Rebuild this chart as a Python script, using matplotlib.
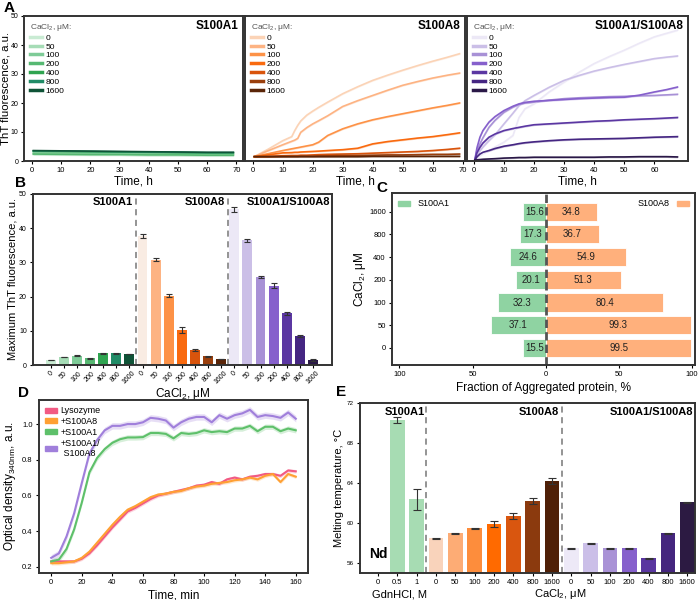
import numpy as np
import matplotlib
matplotlib.use("Agg")
import matplotlib.pyplot as plt
from matplotlib.patches import Patch
from matplotlib.ticker import FuncFormatter
from matplotlib.transforms import blended_transform_factory

plt.rcParams['font.family'] = ['Liberation Sans', 'DejaVu Sans']
plt.rcParams['mathtext.fontset'] = 'custom'
plt.rcParams['mathtext.rm'] = 'Liberation Sans'
plt.rcParams['mathtext.it'] = 'Liberation Sans:italic'
plt.rcParams['axes.edgecolor'] = '#333333'
plt.rcParams['axes.linewidth'] = 1.4
plt.rcParams['xtick.labelsize'] = 5.5
plt.rcParams['ytick.labelsize'] = 5.5
plt.rcParams['xtick.major.size'] = 2.5
plt.rcParams['ytick.major.size'] = 2.5
plt.rcParams['xtick.major.pad'] = 2
plt.rcParams['ytick.major.pad'] = 2

# ---------------- data ----------------
conc = ['0', '50', '100', '200', '400', '800', '1600']

# panel A, kinetics (h, a.u.)
tA1 = [0.5, 10, 20, 30, 40, 50, 60, 69]
a1_curves = [
    [2.2, 2.1, 2.0, 2.0, 1.9, 1.9, 1.8, 1.8],
    [2.6, 2.5, 2.4, 2.4, 2.3, 2.3, 2.2, 2.2],
    [2.9, 2.8, 2.7, 2.6, 2.6, 2.5, 2.5, 2.4],
    [2.4, 2.3, 2.2, 2.2, 2.1, 2.1, 2.0, 2.0],
    [3.4, 3.3, 3.2, 3.1, 3.0, 2.9, 2.8, 2.8],
    [3.5, 3.4, 3.3, 3.2, 3.1, 3.0, 2.9, 2.9],
    [3.6, 3.5, 3.4, 3.3, 3.2, 3.1, 3.0, 3.0],
]
tA2 = [0.5, 5, 10, 13, 14, 15, 16, 18, 20, 22, 25, 30, 35, 40, 45, 50, 55, 60, 65, 69]
a8_curves = [
    [1.5, 4.0, 7.0, 8.4, 10.5, 12.3, 13.8, 15.8, 17.2, 18.5, 20.3, 23.2, 25.6, 27.8, 29.6, 31.3, 32.9, 34.4, 35.8, 37.0],
    [1.5, 3.5, 5.6, 6.8, 7.2, 7.8, 9.9, 11.5, 12.8, 13.9, 15.6, 18.8, 20.8, 22.6, 24.4, 26.1, 27.4, 28.6, 29.6, 30.3],
    [1.5, 2.5, 3.6, 4.2, 4.4, 4.6, 4.8, 5.2, 5.6, 6.5, 8.8, 11.1, 12.8, 14.2, 15.3, 16.3, 17.3, 18.3, 19.2, 20.0],
    [1.5, 2.1, 2.8, 2.9, 3.0, 3.0, 3.1, 3.2, 3.3, 3.4, 3.6, 3.9, 4.4, 5.9, 6.7, 7.3, 7.9, 8.4, 9.1, 9.7],
    [1.5, 1.6, 1.8, 1.9, 1.9, 1.9, 2.0, 2.0, 2.1, 2.2, 2.3, 2.4, 2.5, 2.7, 2.9, 3.1, 3.3, 3.6, 4.0, 4.4],
    [1.5, 1.5, 1.6, 1.6, 1.6, 1.6, 1.7, 1.7, 1.7, 1.8, 1.8, 1.9, 1.9, 2.0, 2.1, 2.1, 2.2, 2.3, 2.3, 2.4],
    [1.5, 1.5, 1.5, 1.5, 1.5, 1.5, 1.5, 1.5, 1.5, 1.5, 1.5, 1.5, 1.5, 1.6, 1.6, 1.6, 1.6, 1.6, 1.6, 1.6],
]
tA3 = [0.3, 1, 2, 3, 5, 7, 10, 13, 15, 17, 20, 25, 30, 35, 40, 45, 50, 55, 60, 64, 67.7]
a18_curves = [
    [0.3, 1.0, 1.8, 2.5, 3.6, 4.8, 6.5, 8.8, 15.0, 18.0, 19.7, 23.8, 27.2, 30.6, 33.6, 36.0, 38.2, 40.6, 42.8, 44.0, 45.1],
    [0.3, 2.0, 3.5, 4.8, 7.0, 9.0, 12.8, 16.5, 19.1, 20.8, 22.6, 25.4, 27.8, 29.5, 31.0, 32.2, 33.3, 34.3, 35.3, 35.8, 36.2],
    [0.3, 3.5, 5.9, 8.0, 11.6, 14.0, 16.8, 18.6, 19.5, 20.0, 20.3, 21.0, 21.5, 21.8, 22.0, 22.2, 22.3, 22.5, 22.6, 22.8, 23.0],
    [0.3, 4.5, 8.2, 10.5, 13.4, 15.3, 17.4, 18.9, 19.7, 20.2, 20.6, 20.9, 21.2, 21.5, 21.7, 21.9, 22.0, 22.7, 23.8, 24.6, 25.5],
    [0.3, 2.8, 4.7, 6.2, 8.2, 9.3, 10.5, 11.2, 11.6, 12.0, 12.5, 12.8, 13.1, 13.4, 13.7, 13.9, 14.2, 14.4, 14.6, 14.8, 15.0],
    [0.3, 1.4, 2.4, 3.0, 3.6, 4.3, 5.1, 5.6, 6.0, 6.3, 6.6, 7.0, 7.3, 7.5, 7.6, 7.7, 7.8, 8.0, 8.2, 8.3, 8.4],
    [0.3, 0.4, 0.5, 0.6, 0.7, 0.8, 1.0, 1.1, 1.2, 1.2, 1.3, 1.3, 1.3, 1.3, 1.3, 1.4, 1.4, 1.5, 1.5, 1.5, 1.4],
]

# panel B, maximum ThT fluorescence
maxA1 = [1.5, 2.3, 2.7, 2.0, 3.5, 3.4, 3.2]
maxA1_err = [0.1, 0.1, 0.1, 0.1, 0.15, 0.1, 0.1]
maxA8 = [37.8, 30.8, 20.3, 10.2, 4.4, 2.5, 1.8]
maxA8_err = [0.6, 0.4, 0.5, 0.8, 0.3, 0.1, 0.1]
maxA18 = [45.5, 36.5, 25.8, 23.2, 15.1, 8.5, 1.6]
maxA18_err = [0.8, 0.4, 0.3, 0.8, 0.5, 0.3, 0.3]

# panel C, fraction of aggregated protein (%)
fracA1 = [15.5, 37.1, 32.3, 20.1, 24.6, 17.3, 15.6]
fracA8 = [99.5, 99.3, 80.4, 51.3, 54.9, 36.7, 34.8]

# panel D, optical density at 340 nm
tD = [0, 5, 10, 15, 20, 25, 30, 35, 40, 45, 50, 55, 60, 65, 70, 75, 80, 85, 90, 95,
      100, 105, 110, 115, 120, 125, 130, 135, 140, 145, 150, 155, 160]
od_lys = [0.23, 0.23, 0.23, 0.23, 0.245, 0.275, 0.32, 0.37, 0.42, 0.465, 0.51, 0.53, 0.555, 0.58, 0.60, 0.61,
          0.62, 0.63, 0.64, 0.655, 0.66, 0.675, 0.665, 0.69, 0.70, 0.69, 0.705, 0.71, 0.72, 0.72, 0.71, 0.74, 0.735]
od_a8 = [0.22, 0.22, 0.225, 0.23, 0.25, 0.285, 0.335, 0.385, 0.435, 0.48, 0.52, 0.54, 0.565, 0.59, 0.605, 0.61,
         0.62, 0.625, 0.64, 0.65, 0.655, 0.665, 0.67, 0.675, 0.685, 0.69, 0.70, 0.69, 0.71, 0.72, 0.675, 0.72, 0.705]
od_a1 = [0.23, 0.24, 0.30, 0.41, 0.56, 0.73, 0.81, 0.86, 0.895, 0.915, 0.925, 0.925, 0.927, 0.95, 0.95, 0.945,
         0.92, 0.95, 0.945, 0.95, 0.965, 0.955, 0.96, 0.955, 0.975, 0.975, 0.99, 0.96, 0.985, 0.985, 0.96, 0.975, 0.965]
od_a18 = [0.25, 0.275, 0.37, 0.50, 0.67, 0.835, 0.91, 0.965, 0.99, 0.99, 1.0, 1.0, 1.01, 1.035, 1.03, 1.02,
          0.98, 1.01, 1.03, 1.04, 1.04, 1.01, 1.05, 1.03, 1.05, 1.06, 1.08, 1.04, 1.05, 1.045, 1.035, 1.065, 1.03]
od_sd = [0.01, 0.01, 0.015, 0.018]

# panel E, melting temperature
tm_gdn_labels = ['0', '0.5', '1']
tm_a1 = [np.nan, 70.3, 62.4]
tm_a1_err = [0, 0.3, 1.05]
tm_a8 = [58.5, 59.0, 59.5, 59.9, 60.7, 62.2, 64.2]
tm_a8_err = [0.05, 0.05, 0.05, 0.3, 0.3, 0.3, 0.3]
tm_a18 = [57.5, 58.0, 57.5, 57.5, 56.5, 59.0, 62.1]
tm_a18_err = [0.05, 0.05, 0.05, 0.05, 0.05, 0.05, 0.05]

# ---------------- colours ----------------
greens = ['#c9ebd3', '#a6dcb6', '#7ecb97', '#56b872', '#2fa450', '#218c67', '#0f5337']
oranges = ['#fbd3b6', '#fdb383', '#fd9247', '#f96a0f', '#d9540c', '#9a3f0c', '#5a2508']
oranges_b = ['#f9ece3'] + oranges[1:]
purples = ['#ece8f6', '#cbbfe7', '#a891d6', '#8660cc', '#5b37a2', '#452682', '#2a1847']

fig = plt.figure(figsize=(7, 6), dpi=100)


def box(x0, y0, x1, y1):
    return fig.add_axes([x0 / 700, 1 - y1 / 600, (x1 - x0) / 700, (y1 - y0) / 600])


def letter(x, y, s):
    fig.text(x / 700, 1 - y / 600, s, fontsize=11, fontweight='bold', va='top', ha='left')


# ---------------- A ----------------
axA = [box(24, 16, 243, 161), box(245, 16, 465, 161), box(467, 16, 688, 161)]
sets = [(tA1, a1_curves, greens, 'S100A1', (-2.7, 72.3)),
        (tA2, a8_curves, oranges, 'S100A8', (-2.6, 70.8)),
        (tA3, a18_curves, purples, 'S100A1/S100A8', (-2.3, 71.2))]
for i, (ax, (t, curves, cols, name, xl)) in enumerate(zip(axA, sets)):
    for c, y, col in zip(conc, curves, cols):
        ax.plot(t, y, color=col, lw=1.2, label=c)
        ax.fill_between(t, np.array(y) - 0.3, np.array(y) + 0.3, color=col, alpha=0.3, lw=0)
    ax.set_xlim(*xl)
    ax.set_ylim(0, 50)
    ax.set_xticks(range(0, 61, 10) if i == 2 else range(0, 71, 10))
    ax.set_xlabel('Time, h', fontsize=8.5, labelpad=1)
    ax.text(0.98, 0.97, name, transform=ax.transAxes, ha='right', va='top',
            fontsize=8.5, fontweight='bold')
    leg = ax.legend(title='CaCl$_2$, μM:', loc='upper left', frameon=False, fontsize=6,
                    title_fontsize=6, handlelength=1.4, labelspacing=0.12,
                    borderaxespad=0.3, alignment='left', handletextpad=0.5)
    leg.get_title().set_color('#555555')
    for h in leg.get_lines():
        h.set_linewidth(2.5)
    if i == 0:
        ax.set_ylabel('ThT fluorescence, a.u.', fontsize=8.2, labelpad=0)
        ax.set_yticks(range(0, 51, 10))
        ax.tick_params(axis='y', labelsize=5, pad=1.5)
    else:
        ax.tick_params(left=False, labelleft=False)
letter(4, 1, 'A')

# ---------------- B ----------------
axB = box(33, 194, 332, 365)
xb = np.arange(21)
valsB = maxA1 + maxA8 + maxA18
errB = maxA1_err + maxA8_err + maxA18_err
colB = greens + oranges_b + purples
axB.bar(xb, valsB, width=0.75, color=colB)
axB.errorbar(xb, valsB, yerr=errB, fmt='none', ecolor='#333333', elinewidth=0.8, capsize=2, capthick=0.8)
for xd in (6.5, 13.5):
    axB.axvline(xd, color='#777777', lw=1.1, ls=(0, (4, 3)))
axB.set_xlim(-1.35, 21.45)
axB.set_ylim(0, 50)
axB.set_xticks(xb)
axB.set_xticklabels(conc * 3, rotation=45, fontsize=5)
axB.tick_params(axis='x', pad=1)
axB.tick_params(axis='y', labelsize=5)
axB.set_yticks(range(0, 51, 10))
axB.set_ylabel('Maximum ThT fluorescence, a.u.', fontsize=8, labelpad=1)
axB.set_xlabel('CaCl$_2$, μM', fontsize=8.5)
axB.xaxis.set_label_coords(0.5, -0.125)
for xr, s in ((6.3, 'S100A1'), (13.3, 'S100A8'), (21.3, 'S100A1/S100A8')):
    axB.text(xr, 49.0, s, ha='right', va='top', fontsize=8, fontweight='bold')
letter(15, 176, 'B')

# ---------------- C ----------------
axC = box(392, 193, 695, 365)
yc = np.arange(7)
green_c = '#8fd3a2'
orange_c = '#ffb07c'
axC.barh(yc, [-v for v in fracA1], height=0.8, color=green_c, edgecolor='white', lw=0.6)
axC.barh(yc, fracA8, height=0.8, color=orange_c, edgecolor='white', lw=0.6)
for y, a, b in zip(yc, fracA1, fracA8):
    axC.text(-a / 2, y, f'{a:.1f}', ha='center', va='center', fontsize=7, color='#222222')
    axC.text(b / 2, y, f'{b:.1f}', ha='center', va='center', fontsize=7, color='#222222')
axC.axvline(0, color='#555555', lw=2.0, ls=(0, (3, 1.5)))
axC.set_xlim(-105, 102)
axC.set_ylim(-0.75, 6.82)
axC.set_yticks(yc)
axC.set_yticklabels(conc)
axC.set_xticks([-100, -50, 0, 50, 100])
axC.xaxis.set_major_formatter(FuncFormatter(lambda v, p: f'{abs(v):.0f}'))
axC.set_ylabel('CaCl$_2$, μM', fontsize=8.5, labelpad=1)
axC.set_xlabel('Fraction of Aggregated protein, %', fontsize=8.5, labelpad=3)
l1 = axC.legend([Patch(color=green_c)], ['S100A1'], loc='upper left', frameon=False,
                fontsize=6.5, handlelength=1.3, handleheight=0.5, borderaxespad=0.3)
axC.add_artist(l1)
axC.legend([Patch(color=orange_c)], ['S100A8'], loc='upper right', frameon=False,
           fontsize=6.5, handlelength=1.3, handleheight=0.5, borderaxespad=0.3, markerfirst=False)
letter(376, 181, 'C')

# ---------------- D ----------------
axD = box(39, 400, 308, 573)
seriesD = [(od_lys, '#f25a83', 'Lysozyme'), (od_a8, '#ffa033', '+S100A8'),
           (od_a1, '#5ec06a', '+S100A1'), (od_a18, '#a07fdb', '+S100A1/\n S100A8')]
handles = []
for (y, col, lab), sd in zip(seriesD, od_sd):
    y = np.array(y)
    axD.fill_between(tD, y - sd, y + sd, color=col, alpha=0.25, lw=0)
    axD.plot(tD, y, color=col, lw=1.5)
    handles.append(Patch(color=col, label=lab))
axD.set_xlim(-8, 168)
axD.set_ylim(0.165, 1.135)
axD.set_xticks(range(0, 161, 20))
axD.set_yticks([0.2, 0.4, 0.6, 0.8, 1.0])
axD.set_yticklabels(['0.2', '0.4', '0.6', '0.8', '1.0'])
axD.set_xlabel('Time, min', fontsize=8.5, labelpad=2)
axD.set_ylabel('Optical density$_\\mathregular{340nm}$, a.u.', fontsize=8.5, labelpad=3)
axD.legend(handles=handles, loc='upper left', frameon=False, fontsize=6.5,
           handlelength=1.3, handleheight=0.5, labelspacing=0.2, borderaxespad=0.3,
           handletextpad=0.4)
letter(18, 386, 'D')

# ---------------- E ----------------
axE = box(360, 403, 695, 573)
xe = np.arange(17)
green_e = '#a7dcb3'
oranges_e = ['#f9d3bb', '#fdac75', '#fd8d3c', '#ff6a00', '#d9560f', '#8b3a0e', '#4f2007']
purples_e = ['#ede9f7', '#cbbfe8', '#a992d6', '#8660cc', '#5a36a0', '#45267e', '#2c1a42']
valsE = tm_a1 + tm_a8 + tm_a18
errE = tm_a1_err + tm_a8_err + tm_a18_err
colE = [green_e] * 3 + oranges_e + purples_e
base = 55
axE.bar(xe, np.array(valsE) - base, bottom=base, width=0.75, color=colE)
mask = ~np.isnan(valsE)
axE.errorbar(xe[mask], np.array(valsE)[mask], yerr=np.array(errE)[mask], fmt='none',
             ecolor='#333333', elinewidth=0.8, capsize=3, capthick=0.8)
for xd in (2.5, 9.5):
    axE.axvline(xd, color='#777777', lw=1.1, ls=(0, (4, 3)))
axE.set_xlim(-0.93, 16.4)
axE.set_ylim(55, 72)
axE.set_yticks([56, 60, 64, 68, 72])
axE.tick_params(axis='y', labelsize=4.5)
axE.set_xticks(xe)
axE.set_xticklabels(tm_gdn_labels + conc * 2, fontsize=5.5)
axE.set_ylabel('Melting temperature, °C', fontsize=8, labelpad=2)
axE.text(0, 56.2, 'Nd', ha='center', va='bottom', fontsize=10, fontweight='bold')
for xr, s in ((2.4, 'S100A1'), (9.35, 'S100A8'), (16.3, 'S100A1/S100A8')):
    axE.text(xr, 71.6, s, ha='right', va='top', fontsize=8, fontweight='bold')
trE = blended_transform_factory(axE.transData, axE.transAxes)
axE.text(1.1, -0.125, 'GdnHCl, M', transform=trE, ha='center', va='center', fontsize=8)
axE.text(9.45, -0.125, 'CaCl$_2$, μM', transform=trE, ha='center', va='center', fontsize=8)
letter(336, 385, 'E')

fig.savefig('out.png', dpi=100)
